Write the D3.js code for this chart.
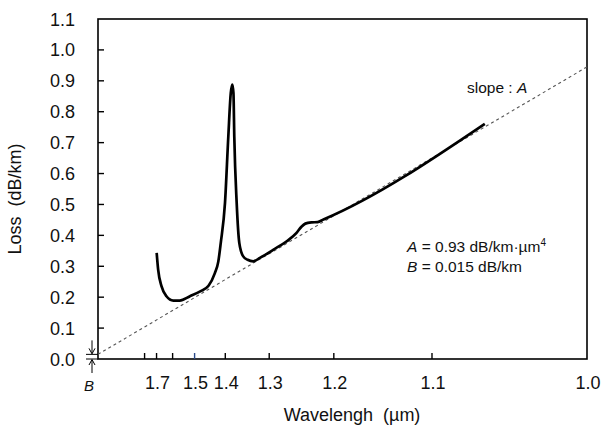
<!DOCTYPE html>
<html><head><meta charset="utf-8">
<script src="https://cdn.jsdelivr.net/npm/d3@7"></script>
<style>body{margin:0;background:#fff}svg{display:block}text{font-family:"Liberation Sans",Arial,sans-serif;fill:#111;white-space:pre}</style>
</head><body><svg id="c" width="601" height="429"></svg>
<script>
// x axis variable is u = wavelength^-4 (µm^-4)
const curveU    = [0.120,0.123,0.130,0.140,0.154,0.167,0.188,0.209,0.226,0.239,0.246,0.251,0.2597,0.2665,0.2715,0.2747,0.2770,0.2787,0.2836,0.289,0.297,0.306,0.3176,0.331,0.359,0.386,0.406,0.416,0.424,0.437,0.449,0.461,0.791];
const curveLoss = [0.343,0.289,0.235,0.203,0.189,0.189,0.203,0.219,0.237,0.278,0.315,0.375,0.505,0.720,0.860,0.888,0.860,0.720,0.505,0.375,0.332,0.321,0.316,0.327,0.354,0.381,0.408,0.428,0.438,0.442,0.443,0.451,0.761];
const fitU = [0, 1];
const fitLoss = [0.015, 0.945];
const tickWavelengths = [1.8,1.7,1.6,1.5,1.4,1.3,1.2,1.1];
const labelWavelengths = [1.7,1.5,1.4,1.3,1.2,1.1,1.0];
const yTicks = [0.1,0.2,0.3,0.4,0.5,0.6,0.7,0.8,0.9,1.0];
const yLabels = [0.0,0.1,0.2,0.3,0.4,0.5,0.6,0.7,0.8,0.9,1.0,1.1];
const paramB = 0.015;

const svg = d3.select("#c");
const L=98,R=587,T=19,Bt=359;
const x = d3.scaleLinear().domain([0,1]).range([L,R]);
const y = d3.scaleLinear().domain([0,1.1]).range([Bt,T]);
const inv4 = w => Math.pow(w,-4);

// frame
svg.append("rect").attr("x",L).attr("y",T).attr("width",R-L).attr("height",Bt-T)
  .attr("fill","none").attr("stroke","#000").attr("stroke-width",1.6);

// y ticks (inside)
svg.append("g").selectAll("line").data(yTicks).join("line")
  .attr("x1",L).attr("x2",L+6).attr("y1",d=>y(d)).attr("y2",d=>y(d))
  .attr("stroke","#000").attr("stroke-width",1.4);
svg.append("g").selectAll("text").data(yLabels).join("text")
  .attr("x",75).attr("y",d=>y(d)+6.5).attr("text-anchor","end")
  .style("font-size","18px").text(d=>d.toFixed(1));

// x ticks (inside)
svg.append("g").selectAll("line").data(tickWavelengths).join("line")
  .attr("x1",d=>x(inv4(d))).attr("x2",d=>x(inv4(d))).attr("y1",Bt).attr("y2",Bt-6)
  .attr("stroke",d=>d===1.5?"#2a4a8a":"#000").attr("stroke-width",1.4);
svg.append("g").selectAll("text").data(labelWavelengths).join("text")
  .attr("x",d=>x(inv4(d))+1).attr("y",389).attr("text-anchor","middle")
  .style("font-size","18px").text(d=>d.toFixed(1));

// axis titles
svg.append("text").attr("x",352).attr("y",421).attr("text-anchor","middle")
  .style("font-size","18px").text("Wavelengh  (µm)");
svg.append("text").attr("transform","translate(21,199) rotate(-90)").attr("text-anchor","middle")
  .style("font-size","18px").text("Loss  (dB/km)");

// fit line
svg.append("path").datum(fitU.map((u,i)=>[u,fitLoss[i]]))
  .attr("d",d3.line().x(d=>x(d[0])).y(d=>y(d[1])))
  .attr("fill","none").attr("stroke","#555").attr("stroke-width",1.1).attr("stroke-dasharray","3,3");

// loss curve
svg.append("path").datum(curveU.map((u,i)=>[u,curveLoss[i]]))
  .attr("d",d3.line().x(d=>x(d[0])).y(d=>y(d[1])).curve(d3.curveMonotoneX))
  .attr("fill","none").attr("stroke","#000").attr("stroke-width",2.7).attr("stroke-linejoin","round");

// B marker
const yb=y(paramB), y0=y(0), ax=92;
svg.append("line").attr("x1",86).attr("x2",L).attr("y1",yb).attr("y2",yb).attr("stroke","#000").attr("stroke-width",1);
svg.append("line").attr("x1",86).attr("x2",L).attr("y1",y0).attr("y2",y0).attr("stroke","#000").attr("stroke-width",1);
svg.append("line").attr("x1",ax).attr("x2",ax).attr("y1",yb-14).attr("y2",yb-1).attr("stroke","#000").attr("stroke-width",1);
svg.append("path").attr("d",`M${ax-3},${yb-6}L${ax},${yb-0.5}L${ax+3},${yb-6}`).attr("fill","none").attr("stroke","#000").attr("stroke-width",1);
svg.append("line").attr("x1",ax).attr("x2",ax).attr("y1",y0+1).attr("y2",y0+14).attr("stroke","#000").attr("stroke-width",1);
svg.append("path").attr("d",`M${ax-3},${y0+6}L${ax},${y0+0.5}L${ax+3},${y0+6}`).attr("fill","none").attr("stroke","#000").attr("stroke-width",1);
svg.append("text").attr("x",89).attr("y",391).attr("text-anchor","middle")
  .style("font-size","15px").style("font-style","italic").text("B");

// annotations
const s = svg.append("text").attr("x",467).attr("y",93).style("font-size","15.5px");
s.append("tspan").text("slope : ");
s.append("tspan").style("font-style","italic").text("A");

const a1 = svg.append("text").attr("x",407).attr("y",252).style("font-size","15.5px");
a1.append("tspan").style("font-style","italic").text("A");
a1.append("tspan").text(" = 0.93 dB/km·µm");
a1.append("tspan").attr("dy",-6).style("font-size","10px").text("4");
const a2 = svg.append("text").attr("x",407).attr("y",272).style("font-size","15.5px");
a2.append("tspan").style("font-style","italic").text("B");
a2.append("tspan").text(" = 0.015 dB/km");
</script></body></html>
